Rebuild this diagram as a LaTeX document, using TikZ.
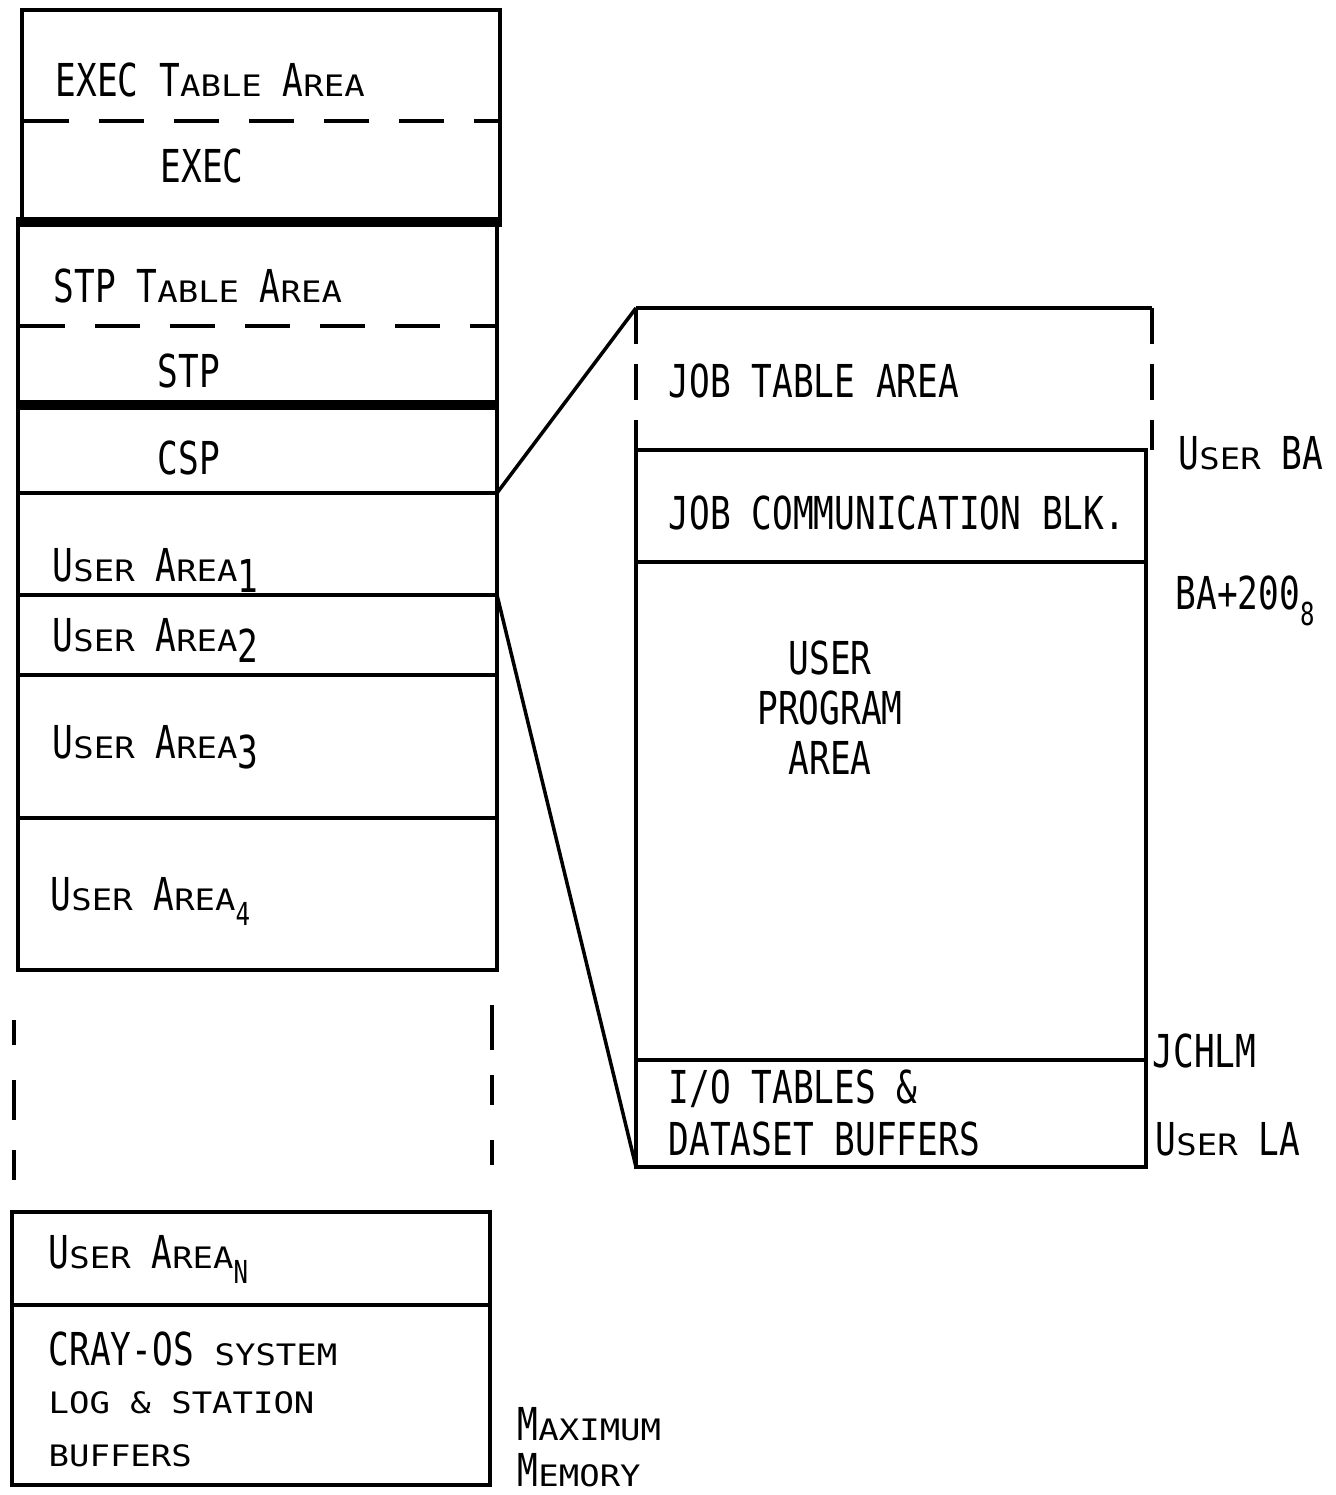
\documentclass[tikz,border=0pt]{standalone}
\usepackage{fontspec}
\setmainfont{DejaVu Sans Mono}[FakeStretch=0.76]
\newfontfamily\smfont{DejaVu Sans Mono}[FakeStretch=1.15]
\usetikzlibrary{positioning}
% small capitals and lowered indices of the hand lettering
\newcommand\sm[1]{{\smfont\fontsize{8.4}{10}\selectfont #1}}
\newcommand\lo[1]{\raisebox{-3pt}{#1}}
\newcommand\lox[1]{\raisebox{-4.5pt}{\fontsize{9}{10}\selectfont #1}}

\begin{document}
\begin{tikzpicture}[x=0.1mm, y=-0.1mm,
  every node/.style={inner sep=0pt, font=\fontsize{12.9}{14.2}\selectfont},
  wall/.style={line width=1.2pt},
  part/.style={line width=1pt},
  heavy/.style={line width=3pt},
  gap/.style={line width=1pt, dash pattern=on 4.5mm off 3mm},
  edge gap/.style={line width=1pt, dash pattern=on 3.6mm off 2mm},
  tag/.style={anchor=base west}]
\useasboundingbox (0,0) rectangle (1335,1495);

% system part of memory
\draw[wall] (22,10) rectangle (500,222);
\draw[gap] (24,121) -- (498,121);
\draw[wall] (18,222) rectangle (497,970);
\draw[heavy] (16,222) -- (502,222);
\draw[gap] (20,326) -- (495,326);
\draw[heavy] (16,405) -- (499,405);
\foreach \y in {493,595,675,818}
  \draw[part] (18,\y) -- (497,\y);

% the gap
\foreach \a/\b in {1020/1045,1080/1120,1150/1180}
  \draw[wall] (14,\a) -- (14,\b);
\foreach \a/\b in {1005/1050,1075/1105,1140/1165}
  \draw[wall] (492,\a) -- (492,\b);

\draw[wall] (12,1212) rectangle (490,1485);
\draw[part] (12,1305) -- (490,1305);

\node[tag] (exectab) at (55,97) {EXEC T\sm{ABLE} A\sm{REA}};
\node[tag] (exec) at (160,183) {EXEC};
\node[tag] (stptab) at (53,303) {STP T\sm{ABLE} A\sm{REA}};
\node[tag] (stp) at (157,388) {STP};
\node[tag] (csp) at (157,475) {CSP};
\node[tag] (ua1) at (52,582) {U\sm{SER} A\sm{REA}\lo{1}};
\node[tag] (ua2) at (52,652) {U\sm{SER} A\sm{REA}\lo{2}};
\node[tag] (ua3) at (52,758) {U\sm{SER} A\sm{REA}\lo{3}};
\node[tag] (ua4) at (50,910) {U\sm{SER} A\sm{REA}\lox{4}};
\node[tag] (uan) at (48,1268) {U\sm{SER} A\sm{REA}\lox{N}};
\node[tag] (cray) at (48,1365) {CRAY-OS \sm{SYSTEM}};
\node[tag] (log) at (48,1413) {\sm{LOG \& STATION}};
\node[tag] (buf) at (48,1466) {\sm{BUFFERS}};
\node[tag] (maxm) at (517,1440) {M\sm{AXIMUM}};
\node[tag] (mem) at (517,1486) {M\sm{EMORY}};

% one user area in detail
\draw[wall] (636,308) -- (1152,308);
\draw[edge gap] (636,308) -- (636,450);
\draw[edge gap] (1152,308) -- (1152,450);
\draw[wall] (636,450) rectangle (1146,1167);
\foreach \y in {562,1060}
  \draw[part] (636,\y) -- (1146,\y);

\node[tag] (jta) at (668,398) {JOB TABLE AREA};
\node[tag] (jcb) at (668,530) {JOB COMMUNICATION BLK.};
\node[align=center] (upa) at (830,708) {USER\\PROGRAM\\AREA};
\node[tag] (iot) at (668,1103) {I/O TABLES \&};
\node[tag] (dsb) at (668,1155) {DATASET BUFFERS};

\node[tag] (uba) at (1178,470) {U\sm{SER} BA};
\node[tag] (ba200) at (1175,610) {BA+200\lox{8}};
\node[tag] (jchlm) at (1152,1067) {JCHLM};
\node[tag] (ula) at (1155,1155) {U\sm{SER} LA};

% zoom lines
\coordinate (cspfoot) at (497,493);
\coordinate (uafoot) at (497,595);
\coordinate (jtop) at (636,308);
\coordinate (iofoot) at (636,1167);
\draw[part] (cspfoot) -- (jtop);
\draw[part] (uafoot) -- (iofoot);
\end{tikzpicture}
\end{document}
